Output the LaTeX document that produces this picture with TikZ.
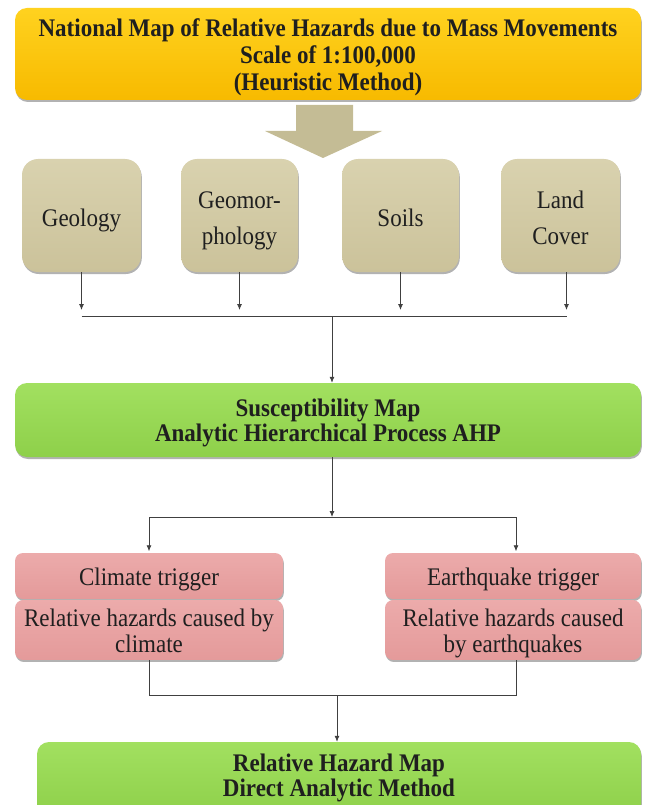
\documentclass[tikz,border=0pt]{standalone}
\usepackage{graphicx}
\usepackage{fontspec}
\setmainfont{Liberation Serif}
\usetikzlibrary{arrows.meta,shadows}
\definecolor{ytop}{HTML}{FFD21F}
\definecolor{ybot}{HTML}{F7BA00}
\definecolor{ttop}{HTML}{D9D2AF}
\definecolor{tbot}{HTML}{CBC29A}
\definecolor{tarrow}{HTML}{C4BC95}
\definecolor{gtop}{HTML}{A2E060}
\definecolor{gbot}{HTML}{8ED04A}
\definecolor{ptop}{HTML}{ECABAB}
\definecolor{pbot}{HTML}{E49A9A}
\definecolor{linec}{HTML}{404040}
\newcommand{\vstack}[1]{\scalebox{1}[1.1]{\begin{tabular}{@{}c@{}}#1\end{tabular}}}
\newcommand{\vtxt}[1]{\raisebox{0pt}[\dimexpr\height+8pt\relax][\depth]{\vstack{#1}}}
\renewcommand{\arraystretch}{1}
\begin{document}
\begin{tikzpicture}[x=1pt,y=-1pt,
  box/.style={rounded corners=12pt, align=center, inner sep=0pt, text=black!88,
    drop shadow={shadow xshift=0.8pt, shadow yshift=-2pt, opacity=0.3, fill=black}},
  yellowbox/.style={box, top color=ytop, bottom color=ybot,
    minimum width=626pt, minimum height=92pt, font=\bfseries\fontsize{23}{24.5}\selectfont},
  tanbox/.style={box, rounded corners=16pt, top color=ttop, bottom color=tbot,
    minimum height=113pt, font=\fontsize{23}{32.5}\selectfont},
  greenbox/.style={box, top color=gtop, bottom color=gbot,
    font=\bfseries\fontsize{23}{22.7}\selectfont},
  pinkbox/.style={box, rounded corners=8pt, top color=ptop, bottom color=pbot,
    font=\fontsize{23}{23.6}\selectfont},
  conn/.style={draw=linec, line width=0.8pt},
  arr/.style={conn, -{Latex[length=6pt,width=5pt]}}
]
\useasboundingbox (0,0) rectangle (645,805);
\clip (0,0) rectangle (645,805);

% top box
\node[yellowbox] (nat) at (328,54) {\vtxt{National Map of Relative Hazards due to Mass Movements\\Scale of 1:100,000\\(Heuristic Method)}};

% thick arrow
\fill[tarrow] (296,105) -- (353,105) -- (353,131) -- (382,131) -- (323,158) -- (265,131) -- (296,131) -- cycle;

% factor boxes
\node[tanbox, minimum width=119pt] (geo) at (81.5,215.5) {\vtxt{Geology}};
\node[tanbox, minimum width=117pt] (geom) at (239.5,215.5) {\vtxt{Geomor-\\phology}};
\node[tanbox, minimum width=117pt] (soil) at (400.5,215.5) {\vtxt{Soils}};
\node[tanbox, minimum width=119pt] (land) at (560.5,215.5) {\vtxt{Land\\Cover}};

% susceptibility
\node[greenbox, minimum width=626pt, minimum height=74pt] (sus) at (328,420) {\vtxt{Susceptibility Map\\Analytic Hierarchical Process AHP}};

% triggers
\node[pinkbox, minimum width=268pt, minimum height=46pt] (cl1) at (149,576) {\vtxt{Climate trigger}};
\node[pinkbox, minimum width=268pt, minimum height=56pt] (cl2) at (149,630) {\vtxt{Relative hazards caused by\\climate}};
\node[pinkbox, minimum width=256pt, minimum height=46pt] (eq1) at (513,576) {\vtxt{Earthquake trigger}};
\node[pinkbox, minimum width=256pt, minimum height=56pt] (eq2) at (513,630) {\vtxt{Relative hazards caused\\by earthquakes}};

% final
\node[greenbox, minimum width=604pt, minimum height=74pt] (rh) at (339,779) {\vstack{Relative Hazard Map\\Direct Analytic Method}};

% connectors: factors to susceptibility
\coordinate (t1) at (0,310);
\coordinate (j1) at (332,316);
\draw[arr] (geo.south) -- (geo.south |- t1);
\draw[arr] (geom.south) -- (geom.south |- t1);
\draw[arr] (soil.south) -- (soil.south |- t1);
\draw[arr] ([xshift=6pt]land.south) -- ([xshift=6pt]land.south |- t1);
\draw[conn] (geo.south |- j1) -- ([xshift=6pt]land.south |- j1);
\draw[arr] (j1) -- (sus.north -| j1);

% susceptibility to triggers
\coordinate (j2) at (332,517);
\draw[arr] (sus.south -| j2) -- (j2);
\draw[conn] (cl1.north |- j2) -- ([xshift=3pt]eq1.north |- j2);
\draw[arr, shorten >=1.5pt] (cl1.north |- j2) -- (cl1.north);
\draw[arr, shorten >=1.5pt] ([xshift=3pt]eq1.north |- j2) -- ([xshift=3pt]eq1.north);

% triggers to final
\coordinate (j3) at (337,695);
\draw[conn] (cl2.south) -- (cl2.south |- j3) -- ([xshift=3pt]eq2.south |- j3) -- ([xshift=3pt]eq2.south);
\draw[arr] (j3) -- (rh.north -| j3);
\end{tikzpicture}
\end{document}
